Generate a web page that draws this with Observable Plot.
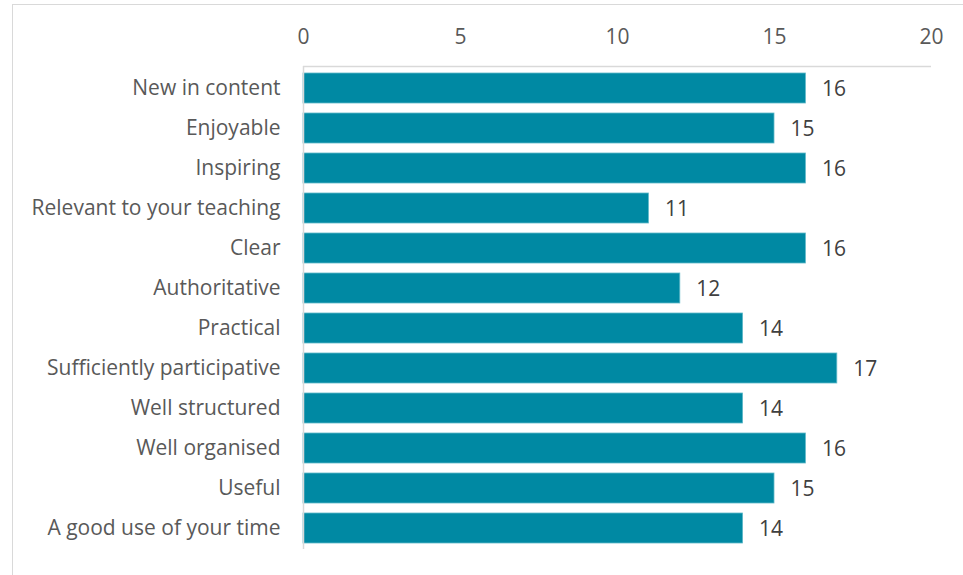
<!DOCTYPE html>
<html>
<head>
<meta charset="utf-8">
<script src="https://cdn.jsdelivr.net/npm/d3@7"></script>
<script src="https://cdn.jsdelivr.net/npm/@observablehq/plot@0.6"></script>
<style>
  html, body { margin: 0; padding: 0; background: #fff; overflow: hidden; }
  #wrap { position: relative; width: 963px; height: 575px; }
  #frame { position: absolute; left: 12px; top: 4px; width: 1000px; height: 700px; border: 1px solid #d9d9d9; box-sizing: border-box; pointer-events: none; }
  #chart { position: absolute; left: 0; top: 0; }
</style>
</head>
<body>
<div id="wrap"><div id="frame"></div><div id="chart"></div></div>
<script>
const categories = [
  "New in content",
  "Enjoyable",
  "Inspiring",
  "Relevant to your teaching",
  "Clear",
  "Authoritative",
  "Practical",
  "Sufficiently participative",
  "Well structured",
  "Well organised",
  "Useful",
  "A good use of your time"
];
const values = [16, 15, 16, 11, 16, 12, 14, 17, 14, 16, 15, 14];
const xTicks = [0, 5, 10, 15, 20];

const data = categories.map((c, i) => ({category: c, value: values[i]}));

const topLine = (index, scales, values, dims) => {
  const g = d3.create("svg:line")
    .attr("x1", scales.x(0))
    .attr("x2", scales.x(20))
    .attr("y1", dims.marginTop + 0.5)
    .attr("y2", dims.marginTop + 0.5)
    .attr("stroke", "#d9d9d9")
    .attr("stroke-width", 1.5);
  return g.node();
};

const chart = Plot.plot({
  width: 963,
  height: 575,
  marginLeft: 303,
  marginRight: 32,
  marginTop: 66,
  marginBottom: 26,
  style: {fontFamily: "'Open Sans', sans-serif", fontSize: "21px", color: "#595959", background: "transparent"},
  x: {domain: [0, 20], ticks: xTicks, axis: "top", tickSize: 0, tickPadding: 23, label: null},
  y: {domain: categories, paddingInner: 0.25, paddingOuter: 0.1, tickSize: 0, tickPadding: 23, label: null},
  marks: [
    Plot.barX(data, {x: "value", y: "category", fill: "#0089A3", stroke: "#5fb8c8", strokeWidth: 0.8}),
    topLine,
    Plot.ruleX([0], {stroke: "#d9d9d9", strokeWidth: 1.5}),
    Plot.text(data, {x: "value", y: "category", text: d => String(d.value), textAnchor: "start", dx: 16, dy: 1, fill: "#404040", fontSize: 21})
  ]
});
document.getElementById("chart").appendChild(chart);
</script>
</body>
</html>
